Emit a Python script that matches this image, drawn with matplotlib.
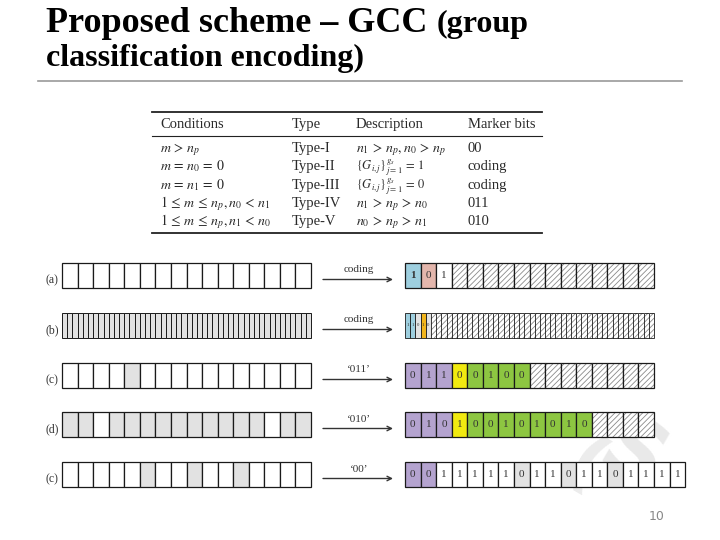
import matplotlib
matplotlib.use('Agg')
import matplotlib.pyplot as plt
from matplotlib.patches import Rectangle

plt.rcParams['mathtext.fontset'] = 'stix'
plt.rcParams['hatch.linewidth'] = 0.6

# ---------------- data ----------------
title_line1 = "Proposed scheme – GCC"
title_small = "(group"
title_line2 = "classification encoding)"

table_header = ["Conditions", "Type", "Description", "Marker bits"]
conditions = [r"$m\,>\,n_p$", r"$m\,=\,n_0\,=\,0$", r"$m\,=\,n_1\,=\,0$",
              r"$1\,\leq\,m\,\leq\,n_p, n_0\,<\,n_1$", r"$1\,\leq\,m\,\leq\,n_p, n_1\,<\,n_0$"]
types = ["Type-I", "Type-II", "Type-III", "Type-IV", "Type-V"]
descriptions = [r"$n_1\,>\,n_p, n_0\,>\,n_p$", r"$\{G_{i,j}\}_{j=1}^{g_s}\,=\,1$",
                r"$\{G_{i,j}\}_{j=1}^{g_s}\,=\,0$", r"$n_1\,>\,n_p\,>\,n_0$",
                r"$n_0\,>\,n_p\,>\,n_1$"]
marker_bits = ["00", "coding", "coding", "011", "010"]

row_labels = ["(a)", "(b)", "(c)", "(d)", "(c)"]
arrow_labels = ["coding", "coding", "‘011’", "‘010’", "‘00’"]
left_cells = [16, 48, 16, 16, 16]
left_gray = [[], list(range(48)), [4],
             [0, 1, 3, 4, 5, 6, 7, 8, 9, 10, 11, 12, 14, 15], [5, 8, 11]]

right_bits = [["1", "0", "1"],
              ["1", "1", "0", "1", "0"],
              list("01100100"),
              list("010100101010"),
              list("001111101101101111")]
right_colors = ["BRW", "BBLOL", "PPPYGGGG", "PPPYGGGGGGGG", "PPWWWWWLWWLWWLWWWW"]
right_hatched = [13, 43, 8, 4, 0]

page_number = "10"

palette = {"B": "#9ecfdf", "R": "#e3b6ac", "W": "white", "L": "#e2e2e2",
           "O": "#f2b51c", "P": "#b4a3cf", "Y": "#f1ea10", "G": "#8dc641"}

# ---------------- figure ----------------
fig = plt.figure(figsize=(7.2, 5.4), dpi=100)
ax = fig.add_axes([0, 0, 1, 1])
ax.set_xlim(0, 720)
ax.set_ylim(540, 0)
ax.axis('off')

serif = "Liberation Serif"

# title
ax.text(46, 32, title_line1, fontsize=26, fontweight='bold', family=serif,
        ha='left', va='baseline', color='black')
ax.text(437, 32, title_small, fontsize=23, fontweight='bold', family=serif,
        ha='left', va='baseline', color='black')
ax.text(46, 66, title_line2, fontsize=23, fontweight='bold', family=serif,
        ha='left', va='baseline', color='black')
ax.plot([38, 682], [81, 81], color='#9a9a9a', lw=1.2)

# watermark
ax.text(632, 458, "S", fontsize=62, fontweight='bold', family="DejaVu Sans",
        color='#e9e9e9', rotation=-30, ha='center', va='center', zorder=0)
ax.text(586, 468, "(", fontsize=50, fontweight='bold', family="DejaVu Sans",
        color='#ececec', rotation=-30, ha='center', va='center', zorder=0)

# table
tx0, tx1 = 152, 542
ax.plot([tx0, tx1], [111.5, 111.5], color='#222', lw=1.3)
ax.plot([tx0, tx1], [136, 136], color='#222', lw=0.8)
ax.plot([tx0, tx1], [232.5, 232.5], color='#222', lw=1.3)
col_x = [160, 292, 356, 468]
tcol = '#2a2a2a'
tfs = 10.5
mfs = 10
for x, h in zip(col_x, table_header):
    ax.text(x, 128, h, fontsize=tfs, family=serif, color=tcol, ha='left', va='baseline')
row_y = [152, 170, 189, 207, 225]
for i, y in enumerate(row_y):
    ax.text(col_x[0], y, conditions[i], fontsize=mfs, color=tcol, ha='left', va='baseline')
    ax.text(col_x[1], y, types[i], fontsize=tfs, family=serif, color=tcol, ha='left', va='baseline')
    dfs = mfs if i not in (1, 2) else 9
    ax.text(col_x[2], y, descriptions[i], fontsize=dfs, color=tcol, ha='left', va='baseline')
    ax.text(col_x[3], y, marker_bits[i], fontsize=tfs, family=serif, color=tcol, ha='left', va='baseline')

# rows of cells
row_top = [263, 313, 363, 412, 462]
row_h = 25
left_x0, left_x1 = 62, 311
right_x0 = 405
unit = (left_x1 - left_x0) / 16.0

for r in range(5):
    y0 = row_top[r]
    yc = y0 + row_h / 2
    # left row
    n = left_cells[r]
    w = (left_x1 - left_x0) / n
    for k in range(n):
        fc = '#e2e2e2' if k in left_gray[r] else 'white'
        ax.add_patch(Rectangle((left_x0 + k * w, y0), w, row_h, facecolor=fc,
                               edgecolor='#1a1a1a', lw=0.9 if n == 16 else 0.7))
    ax.text(46, yc + 8, row_labels[r], fontsize=8.5, family=serif, color='#333',
            ha='left', va='baseline')
    # arrow
    ax.annotate("", xy=(393, yc + 4), xytext=(323, yc + 4),
                arrowprops=dict(arrowstyle='->', color='#333', lw=1.0,
                                mutation_scale=8, shrinkA=0, shrinkB=0))
    ax.text(359, yc - 3, arrow_labels[r], fontsize=8, family=serif, color='#333',
            ha='center', va='baseline')
    # right row
    cw = unit if r != 1 else unit / 3
    bits = right_bits[r]
    cols = right_colors[r]
    fs = 8 if r != 1 else 3.5
    for k, (b, c) in enumerate(zip(bits, cols)):
        x = right_x0 + k * cw
        ax.add_patch(Rectangle((x, y0), cw, row_h, facecolor=palette[c],
                               edgecolor='#1a1a1a', lw=0.9 if r != 1 else 0.6))
        fw = 'bold' if (r == 0 and k == 0) else 'normal'
        ax.text(x + cw / 2, yc, b, fontsize=fs, family=serif, color='#333',
                fontweight=fw, ha='center', va='center')
    start = len(bits)
    for k in range(right_hatched[r]):
        x = right_x0 + (start + k) * cw
        ax.add_patch(Rectangle((x, y0), cw, row_h, facecolor='white',
                               edgecolor='#8a8a8a', lw=0, hatch='//////'))
        ax.add_patch(Rectangle((x, y0), cw, row_h, facecolor='none',
                               edgecolor='#1a1a1a', lw=0.9 if r != 1 else 0.6))

ax.text(657, 516, page_number, fontsize=9, family="DejaVu Sans", color='#888',
        ha='center', va='center')

fig.savefig("out.png", dpi=100)
